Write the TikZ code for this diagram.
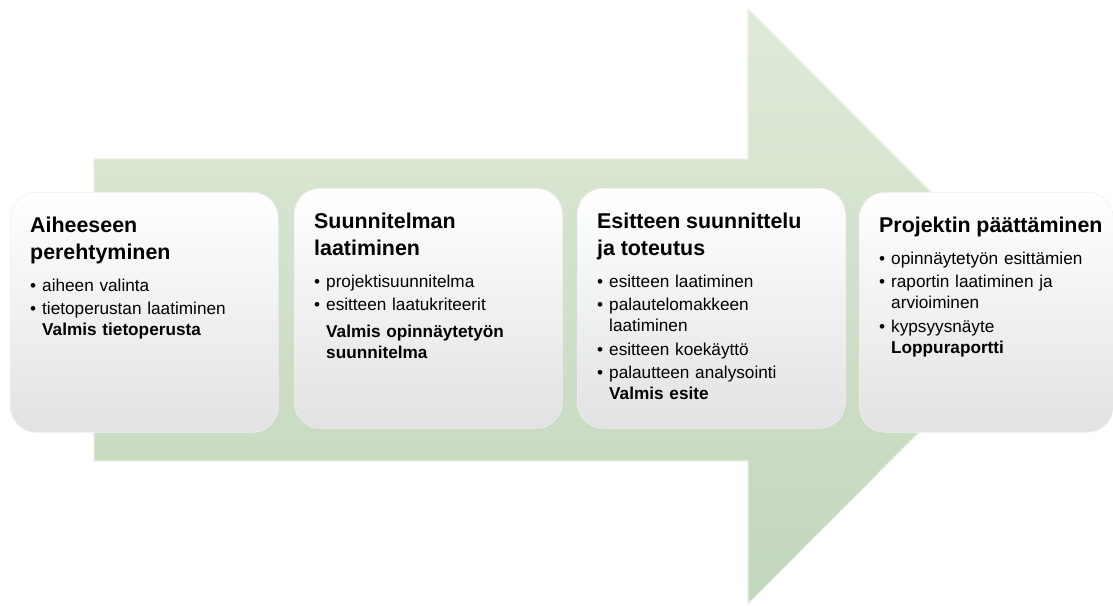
\documentclass[tikz,border=0pt]{standalone}
\usepackage{fontspec}
\setmainfont{Liberation Sans}
\usetikzlibrary{positioning}

\definecolor{arrowtop}{RGB}{222,234,216}
\definecolor{arrowbot}{RGB}{194,214,188}
\definecolor{arrowedge}{RGB}{232,241,228}
\definecolor{boxbot}{RGB}{226,226,226}

\newcommand{\stagetitle}[1]{{\fontsize{21.4}{27}\bfseries #1\par}\vspace{8pt}}
\newcommand{\bul}[1]{\par\hangindent=12pt\hangafter=1\noindent\makebox[12pt][l]{\textbullet}#1}
\newcommand{\done}[1]{\par\vspace{3pt}{\leftskip=12pt\noindent\textbf{#1}\par}}

\tikzset{
  stagebox/.style={rounded corners=26pt, draw=black!6, line width=0.6pt,
    top color=white, middle color=white, bottom color=boxbot,
    minimum width=268pt, minimum height=240pt, anchor=north west, inner sep=0pt},
  stagetext/.style={text width=245pt, align=left, inner sep=0pt,
    font=\fontsize{17.2}{21}\selectfont,
    execute at begin node={\setlength{\parskip}{2.5pt}}}
}

\begin{document}
\begin{tikzpicture}[x=1pt, y=-1pt]

\useasboundingbox (0, 0) rectangle (1113, 605);

% big arrow behind the boxes
\draw [arrowedge, line width=1.2pt, top color=arrowtop, bottom color=arrowbot]
  (94, 159) -- (748, 159) -- (748, 9) -- (1045, 306) -- (748, 604) -- (748, 461) -- (94, 461) -- cycle;

\node [stagebox] (b1) at (10, 192) {};
\node [stagebox] (b2) at (294, 188) {};
\node [stagebox] (b3) at (577, 188) {};
\node [stagebox, minimum width=254pt] (b4) at (859, 192) {};

\node [stagetext, below right=25pt and 20pt of b1.north west] (t1) {%
  \stagetitle{Aiheeseen\\perehtyminen}%
  \bul{aiheen valinta}%
  \bul{tietoperustan laatiminen\newline\textbf{Valmis tietoperusta}}\par};

\node [stagetext, below right=25pt and 20pt of b2.north west] (t2) {%
  \stagetitle{Suunnitelman\\laatiminen}%
  \bul{projektisuunnitelma}%
  \bul{esitteen laatukriteerit}%
  \done{Valmis opinnäytetyön\newline suunnitelma}};

\node [stagetext, below right=25pt and 20pt of b3.north west] (t3) {%
  \stagetitle{Esitteen suunnittelu\\ja toteutus}%
  \bul{esitteen laatiminen}%
  \bul{palautelomakkeen\newline laatiminen}%
  \bul{esitteen koekäyttö}%
  \bul{palautteen analysointi\newline\textbf{Valmis esite}}\par};

\node [stagetext, below right=25pt and 20pt of b4.north west] (t4) {%
  \stagetitle{Projektin päättäminen}%
  \bul{opinnäytetyön esittämien}%
  \bul{raportin laatiminen ja\newline arvioiminen}%
  \bul{kypsyysnäyte\newline\textbf{Loppuraportti}}\par};

\end{tikzpicture}
\end{document}
